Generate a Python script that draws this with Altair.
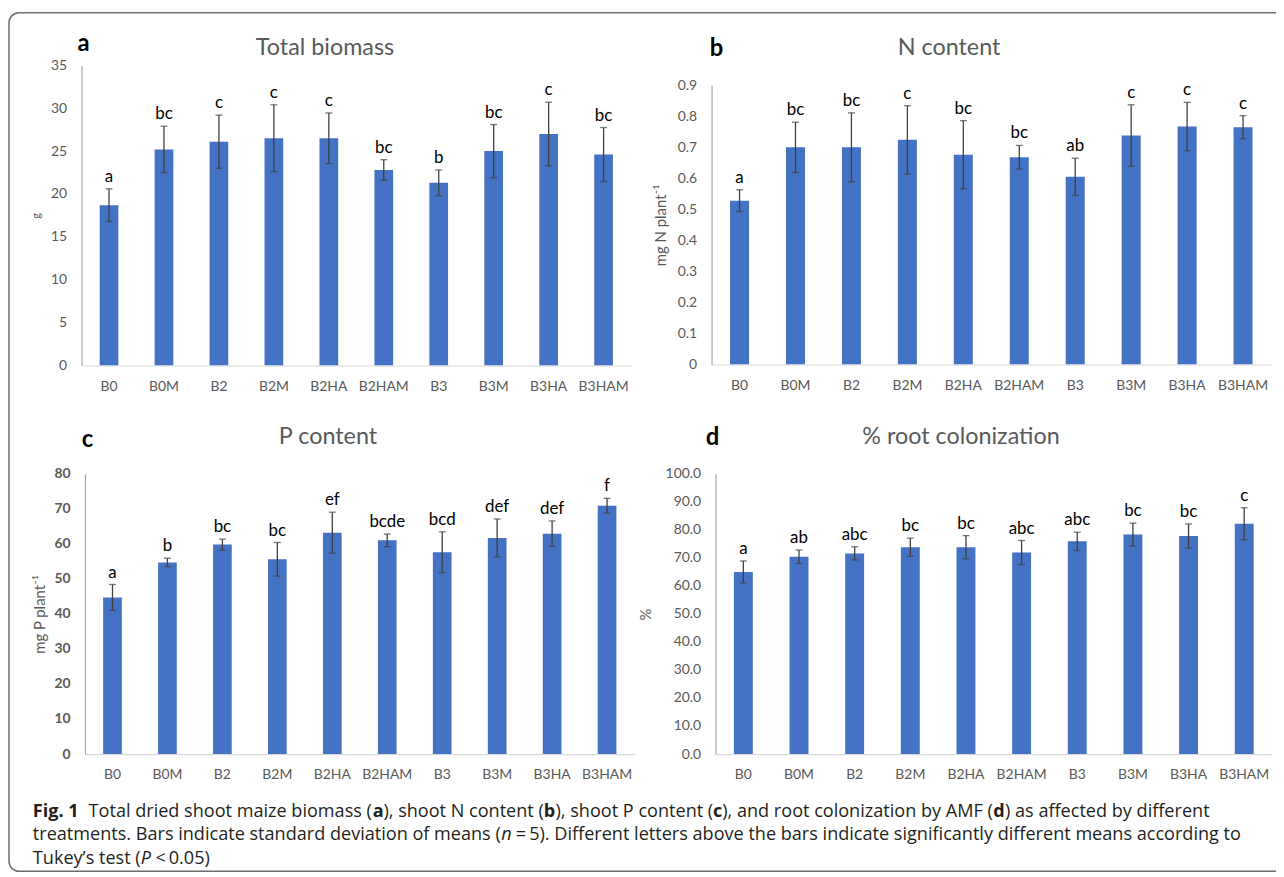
import altair as alt
import pandas as pd

# ---------------- data ----------------
treatments = ["B0", "B0M", "B2", "B2M", "B2HA", "B2HAM", "B3", "B3M", "B3HA", "B3HAM"]

biomass = [18.7, 25.2, 26.1, 26.5, 26.5, 22.8, 21.3, 25.0, 27.0, 24.6]
biomass_sd = [1.9, 2.7, 3.1, 3.9, 2.95, 1.2, 1.5, 3.1, 3.7, 3.15]
biomass_letters = ["a", "bc", "c", "c", "c", "bc", "b", "bc", "c", "bc"]

n_content = [0.528, 0.700, 0.700, 0.724, 0.676, 0.668, 0.605, 0.738, 0.767, 0.765]
n_sd = [0.035, 0.081, 0.111, 0.110, 0.110, 0.038, 0.060, 0.099, 0.078, 0.037]
n_letters = ["a", "bc", "bc", "c", "bc", "bc", "ab", "c", "c", "c"]

p_content = [44.7, 54.7, 59.8, 55.6, 63.2, 61.0, 57.6, 61.7, 62.9, 70.9]
p_sd = [3.7, 1.2, 1.55, 4.8, 5.85, 1.8, 5.85, 5.4, 3.65, 2.1]
p_letters = ["a", "b", "bc", "bc", "ef", "bcde", "bcd", "def", "def", "f"]

colonization = [65.0, 70.4, 71.6, 73.8, 73.8, 71.9, 75.9, 78.3, 77.8, 82.2]
colonization_sd = [3.9, 2.4, 2.35, 3.25, 4.15, 4.3, 3.25, 4.1, 4.3, 5.7]
colonization_letters = ["a", "ab", "abc", "bc", "bc", "abc", "abc", "bc", "bc", "c"]

panel_titles = ["Total biomass", "N content", "P content", "% root colonization"]
panel_tags = ["a", "b", "c", "d"]
y_titles = ["g", "mg N plant\u207b\u00b9", "mg P plant\u207b\u00b9", "%"]

caption_segments = [
    [("Fig. 1", "bold", "normal"), ("\u2002Total dried shoot maize biomass (", "normal", "normal"),
     ("a", "bold", "normal"), ("), shoot N content (", "normal", "normal"),
     ("b", "bold", "normal"), ("), shoot P content (", "normal", "normal"),
     ("c", "bold", "normal"), ("), and root colonization by AMF (", "normal", "normal"),
     ("d", "bold", "normal"), (") as affected by different", "normal", "normal")],
    [("treatments. Bars indicate standard deviation of means (", "normal", "normal"),
     ("n", "normal", "italic"),
     ("\u2009=\u20095). Different letters above the bars indicate significantly different "
      "means according to", "normal", "normal")],
    [("Tukey\u2019s test (", "normal", "normal"), ("P", "normal", "italic"),
     ("\u2009<\u20090.05)", "normal", "normal")],
]

# ---------------- style ----------------
W, H = 1276, 869
FONT = "Lato"
CAPFONT = "Open Sans"
GRAY = "#595959"
BAR = "#4472C4"
ERR = "#404040"

# approximate Open Sans advance widths (units per 2048 em) for laying out caption runs
_OS = {" ": 532, "\u2002": 1024, "\u2009": 410, "a": 1139, "b": 1255, "c": 975, "d": 1255,
       "e": 1149, "f": 694, "g": 1122, "h": 1257, "i": 518, "j": 518, "k": 1075, "l": 518,
       "m": 1905, "n": 1257, "o": 1237, "p": 1255, "q": 1255, "r": 836, "s": 977, "t": 723,
       "u": 1257, "v": 1026, "w": 1593, "x": 1073, "y": 1028, "z": 977, "A": 1296, "B": 1327,
       "D": 1493, "F": 1057, "M": 1849, "N": 1544, "P": 1237, "T": 1147, "(": 604, ")": 604,
       ",": 512, ".": 545, "=": 1171, "<": 1171, "0": 1171, "1": 1171, "5": 1171,
       "\u2019": 358}


def run_width(s, size, weight):
    w = sum(_OS.get(ch, 1100) for ch in s) / 2048.0 * size
    return w * (1.07 if weight == "bold" else 1.0)


def panel(vals, sds, letters, xr, yr, ticks, fmt, ytitle, title_x, ytitle_size,
          bold_labels=False):
    df = pd.DataFrame({
        "t": treatments,
        "v": vals,
        "lo": [v - s for v, s in zip(vals, sds)],
        "hi": [v + s for v, s in zip(vals, sds)],
        "lab": letters,
    })
    xs = alt.Scale(domain=treatments, range=[xr[0] - 8, xr[1] - 8],
                   paddingInner=0.66, paddingOuter=0.33)
    ys = alt.Scale(domain=[ticks[0], ticks[-1]], range=[yr[0] - 8, yr[1] - 8],
                   nice=False, zero=True)
    x_axis = alt.Axis(orient="bottom", offset=(yr[0] - 8) - H, labelAngle=0,
                      ticks=False, grid=False, title=None, domainColor="#D9D9D9",
                      domainWidth=1.2, labelPadding=14, labelFont=FONT,
                      labelFontSize=14, labelColor=GRAY, zindex=2)
    y_axis = alt.Axis(orient="left", offset=-(xr[0] - 8), values=ticks, format=fmt,
                      ticks=False, grid=False, domainColor="#A6A6A6", domainWidth=1.2,
                      labelPadding=15, labelFont=FONT, labelFontSize=14,
                      labelColor=GRAY, labelFontWeight="bold" if bold_labels else "normal",
                      title=ytitle, titleX=title_x, titleBaseline="middle",
                      titleFont=FONT, titleFontSize=ytitle_size,
                      titleFontWeight="normal", titleColor=GRAY, zindex=2)
    X = alt.X("t:N", scale=xs, axis=x_axis, sort=treatments)
    base = alt.Chart(df)
    bars = base.mark_bar(color=BAR).encode(
        x=X, y=alt.Y("v:Q", scale=ys, axis=y_axis))
    rules = base.mark_rule(color=ERR, strokeWidth=1.3).encode(
        x=X, y=alt.Y("lo:Q", scale=ys, axis=y_axis), y2="hi:Q")
    cap_lo = base.mark_tick(color=ERR, size=7, thickness=1.3).encode(
        x=X, y=alt.Y("lo:Q", scale=ys, axis=y_axis))
    cap_hi = base.mark_tick(color=ERR, size=7, thickness=1.3).encode(
        x=X, y=alt.Y("hi:Q", scale=ys, axis=y_axis))
    text = base.mark_text(font=FONT, fontSize=17, color="#000000",
                          baseline="bottom", dy=-3).encode(
        x=X, y=alt.Y("hi:Q", scale=ys, axis=y_axis), text="lab:N")
    return alt.layer(bars, rules, cap_lo, cap_hi, text)


def label(txt, x, y, size, weight="normal", color=GRAY, align="center",
          style="normal", font=FONT):
    return alt.Chart(alt.Data(values=[{"s": txt}])).mark_text(
        font=font, fontSize=size, fontWeight=weight, color=color, align=align,
        baseline="middle", fontStyle=style,
    ).encode(text="s:N", x=alt.value(x - 8), y=alt.value(y - 8))


pa = panel(biomass, biomass_sd, biomass_letters, (82, 635), (365, 63),
           list(range(0, 36, 5)), "d", y_titles[0], -45, 11)
pb = panel(n_content, n_sd, n_letters, (716, 1279), (364, 83),
           [round(i * 0.1, 1) for i in range(10)], "", y_titles[1], -51, 15)
pc = panel(p_content, p_sd, p_letters, (85.5, 638.5), (756, 474),
           list(range(0, 81, 10)), "d", y_titles[2], -46, 15, bold_labels=True)
pd_ = panel(colonization, colonization_sd, colonization_letters, (720, 1280),
            (756, 474), list(range(0, 101, 10)), ".1f", y_titles[3], -70, 15)

frame = alt.Chart(alt.Data(values=[{"k": 1}])).mark_rect(
    cornerRadius=10, fillOpacity=0, stroke="#6E6E6E", strokeWidth=1.5
).encode(x=alt.value(1), x2=alt.value(1310), y=alt.value(2), y2=alt.value(866))

TS = 23.5
titles = [
    label(panel_titles[0], 327, 46, TS),
    label(panel_titles[1], 955, 46, TS),
    label(panel_titles[2], 330, 437, TS),
    label(panel_titles[3], 967, 437, TS),
    label(panel_tags[0], 84, 42, 24, weight="bold", color="#000000"),
    label(panel_tags[1], 721, 47, 24, weight="bold", color="#000000"),
    label(panel_tags[2], 88, 440, 24, weight="bold", color="#000000"),
    label(panel_tags[3], 717, 438, 24, weight="bold", color="#000000"),
]

CAP = "#231F20"
CS = 18.2
caption = []
for line_y, runs in zip([814, 838, 862], caption_segments):
    x = 33.0
    for txt, weight, style in runs:
        stripped = txt.lstrip(" \u2002\u2009")
        x += run_width(txt[: len(txt) - len(stripped)], CS, weight)
        caption.append(label(stripped, x, line_y, CS, weight=weight, color=CAP,
                             align="left", style=style, font=CAPFONT))
        x += run_width(stripped, CS, weight)

chart = alt.layer(frame, pa, pb, pc, pd_, *titles, *caption).resolve_scale(
    x="independent", y="independent"
).properties(
    width=W, height=H, padding=0, autosize=alt.AutoSizeParams(type="none")
).configure_view(stroke=None)

chart.save("out.html", embed_options={"renderer": "svg", "actions": False})
